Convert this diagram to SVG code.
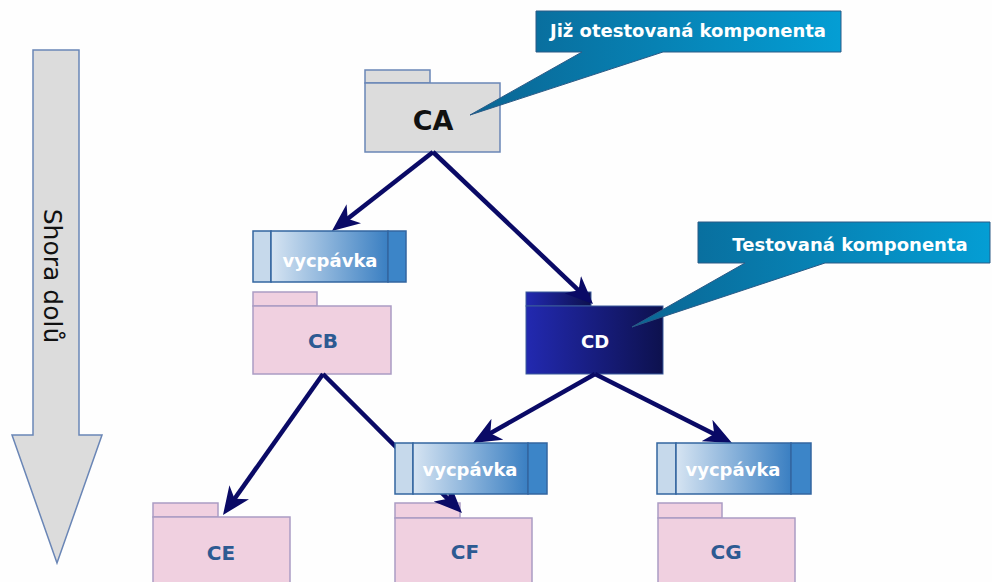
<svg xmlns="http://www.w3.org/2000/svg" width="992" height="582" viewBox="0 0 992 582">
<defs>
<linearGradient id="gCall" x1="0" y1="0" x2="1" y2="0"><stop offset="0" stop-color="#0a6593"/><stop offset="1" stop-color="#049ed4"/></linearGradient>
<linearGradient id="gCD" x1="0" y1="0" x2="1" y2="0"><stop offset="0" stop-color="#2229b0"/><stop offset="1" stop-color="#0d114e"/></linearGradient>
<linearGradient id="gPad" x1="0" y1="0" x2="1" y2="0"><stop offset="0" stop-color="#d6e4f2"/><stop offset="1" stop-color="#3a7fc2"/></linearGradient>
<marker id="ah" viewBox="0 0 28 24" refX="19" refY="12" markerWidth="28" markerHeight="24" markerUnits="userSpaceOnUse" orient="auto"><path d="M28,12 L0,0 L8,12 L0,24 Z" fill="#0a0a66"/></marker>
<style>
.bold{font-family:"DejaVu Sans",Verdana,sans-serif;font-weight:bold;text-anchor:middle}
.grey{fill:#dcdcdc;stroke:#6a86b6;stroke-width:1.5}
.pink{fill:#f0d0e0;stroke:#ab9cc4;stroke-width:1.5}
.pt{fill:#2d5a92;font-size:20px}
.padL{fill:#c6d9eb;stroke:#3366a0;stroke-width:1.5}
.padM{fill:url(#gPad);stroke:#3366a0;stroke-width:1.5}
.padR{fill:#3c85c8;stroke:#3366a0;stroke-width:1.5}
.pad{fill:#ffffff;font-size:18px}
.call{fill:url(#gCall);stroke:#2a5a86;stroke-width:1}
.ct{fill:#ffffff;font-size:18px}
.conn{stroke:#0a0a66;stroke-width:4.5;fill:none;marker-end:url(#ah)}
</style>
</defs>
<rect width="992" height="582" fill="#fefefe"/>
<g id="topdown">
<path d="M33,50 H79 V435 H102 L57,563 L12,435 H33 Z" fill="#dcdcdc" stroke="#6a86b6" stroke-width="1.5"/>
<text transform="translate(44,276) rotate(90)" font-family="'DejaVu Sans',Verdana,sans-serif" font-size="25" text-anchor="middle" fill="#111">Shora dolů</text>
</g>
<g id="CA">
<rect class="grey" x="365" y="70" width="65" height="13"/>
<rect class="grey" x="365" y="83" width="135" height="69"/>
<text class="bold" x="433" y="130" font-size="27" fill="#111">CA</text>
</g>
<g id="CB">
<rect class="pink" x="253" y="292" width="64" height="14"/>
<rect class="pink" x="253" y="306" width="138" height="68"/>
<text class="bold pt" x="323" y="348">CB</text>
</g>
<g id="CD">
<rect x="526" y="292" width="65" height="14" fill="url(#gCD)" stroke="#3a5a9a" stroke-width="1"/>
<rect x="526" y="306" width="137" height="68" fill="url(#gCD)" stroke="#3a5a9a" stroke-width="1"/>
<text class="bold" x="595" y="348" font-size="18" fill="#ffffff">CD</text>
</g>
<g id="CE">
<rect class="pink" x="153" y="503" width="65" height="14"/>
<rect class="pink" x="153" y="517" width="137" height="75"/>
<text class="bold pt" x="221" y="560">CE</text>
</g>
<g id="CF">
<rect class="pink" x="395" y="503" width="65" height="15"/>
<rect class="pink" x="395" y="518" width="137" height="74"/>
<text class="bold pt" x="465" y="559">CF</text>
</g>
<g id="CG">
<rect class="pink" x="658" y="503" width="64" height="15"/>
<rect class="pink" x="658" y="518" width="137" height="74"/>
<text class="bold pt" x="726" y="559">CG</text>
</g>
<g id="connectors">
<line class="conn" x1="433" y1="152" x2="339" y2="225.5"/>
<line class="conn" x1="433" y1="152" x2="586.5" y2="297.8"/>
<line class="conn" x1="323" y1="374" x2="228.2" y2="507.7"/>
<line class="conn" x1="323" y1="374" x2="455.6" y2="506.6"/>
<line class="conn" x1="595" y1="374" x2="480.8" y2="438.6"/>
<line class="conn" x1="595" y1="374" x2="724" y2="439"/>
</g>
<g id="pad1">
<rect class="padL" x="253" y="231" width="18" height="51"/>
<rect class="padM" x="271" y="231" width="117" height="51"/>
<rect class="padR" x="388" y="231" width="18" height="51"/>
<text class="bold pad" x="330" y="267">vycpávka</text>
</g>
<g id="pad2">
<rect class="padL" x="395" y="443" width="18" height="51"/>
<rect class="padM" x="413" y="443" width="115" height="51"/>
<rect class="padR" x="528" y="443" width="19" height="51"/>
<text class="bold pad" x="470" y="476">vycpávka</text>
</g>
<g id="pad3">
<rect class="padL" x="657" y="443" width="19" height="51"/>
<rect class="padM" x="676" y="443" width="115" height="51"/>
<rect class="padR" x="791" y="443" width="20" height="51"/>
<text class="bold pad" x="733" y="476">vycpávka</text>
</g>
<g id="callout1">
<path class="call" d="M536,11 H841 V52 H663 L470,115 L582,52 H536 Z"/>
<text class="bold ct" x="688" y="37">Již otestovaná komponenta</text>
</g>
<g id="callout2">
<path class="call" d="M698,222 H990 V263 H825 L632,327 L745,263 H698 Z"/>
<text class="bold ct" x="850" y="251">Testovaná komponenta</text>
</g>
</svg>
